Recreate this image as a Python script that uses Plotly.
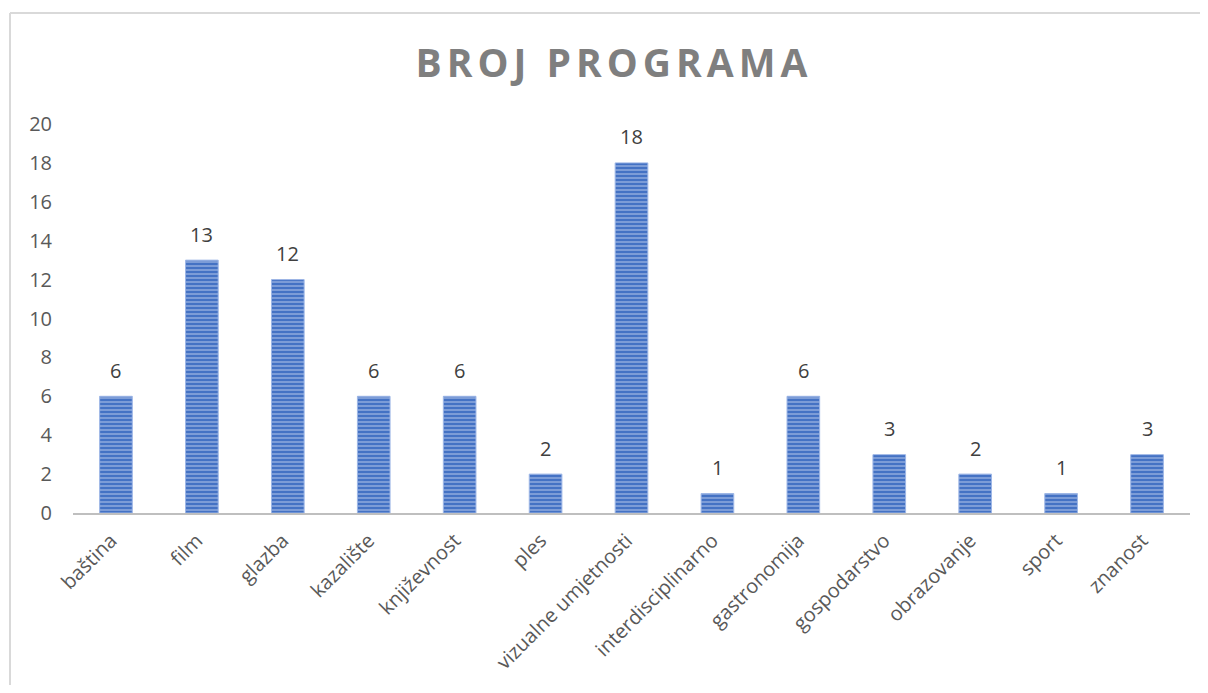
import plotly.graph_objects as go

categories = ["baština", "film", "glazba", "kazalište", "književnost", "ples",
              "vizualne umjetnosti", "interdisciplinarno", "gastronomija",
              "gospodarstvo", "obrazovanje", "sport", "znanost"]
values = [6, 13, 12, 6, 6, 2, 18, 1, 6, 3, 2, 1, 3]
y_ticks = [0, 2, 4, 6, 8, 10, 12, 14, 16, 18, 20]
title_text = "BROJ PROGRAMA"

OFF = 8  # page body offset
W, H = 1208 - 2 * OFF, 693 - 2 * OFF
# target plot area in screen px: left 73, right 1190, top 124, bottom 513
L = 73 - OFF
R = W - (1190 - OFF)
T = 124 - OFF
B = H - (513 - OFF)
pw, ph = W - L - R, H - T - B

fig = go.Figure()
fig.add_trace(go.Bar(
    x=categories, y=values,
    marker=dict(
        color="#4472C4",
        line=dict(color="#9db6e6", width=1),
        pattern=dict(shape="-", bgcolor="#4472C4", fgcolor="#d0ddf4",
                     size=4, solidity=0.4, fillmode="overlay"),
    ),
    hoverinfo="x+y",
))

for c, v in zip(categories, values):
    fig.add_annotation(x=c, y=v, text=str(v), showarrow=False,
                       yanchor="middle", yshift=26,
                       font=dict(family="Open Sans", size=20, color="#404040"))

bx0 = (10 - OFF - L) / pw
bx1 = (W + 30 - L) / pw
by0 = -(B + 30) / ph
by1 = (H - B - (13 - OFF)) / ph
border = dict(color="#d9d9d9", width=2)

fig.update_layout(
    width=W, height=H,
    margin=dict(l=L, r=R, t=T, b=B),
    paper_bgcolor="white", plot_bgcolor="white",
    bargap=0.62,
    showlegend=False,
    title=dict(text='<span style="letter-spacing:5px">' + title_text + '</span>',
               x=(614 - OFF - L) / pw, xanchor="center", xref="paper",
               y=1 - (63 - OFF) / H, yanchor="middle", yref="container",
               font=dict(family="Open Sans", size=39, color="#7f7f7f", weight="bold")),
    xaxis=dict(showgrid=False, showline=True, linecolor="#bfbfbf", linewidth=2,
               tickangle=-45, ticks="", ticklabelstandoff=6, ticklabelshift=-5,
               tickfont=dict(family="Open Sans", size=20, color="#595959")),
    yaxis=dict(range=[0, 20], tickvals=y_ticks, showgrid=False, showline=False,
               zeroline=False, ticks="", ticklabelstandoff=20,
               tickfont=dict(family="Open Sans", size=20, color="#595959")),
    shapes=[
        dict(type="line", xref="paper", yref="paper", x0=bx0, x1=bx1, y0=by1, y1=by1,
             line=border, layer="below"),
        dict(type="line", xref="paper", yref="paper", x0=bx0, x1=bx0, y0=by0, y1=by1,
             line=border, layer="below"),
    ],
)

fig.write_html("out.html", config={"displayModeBar": False})
